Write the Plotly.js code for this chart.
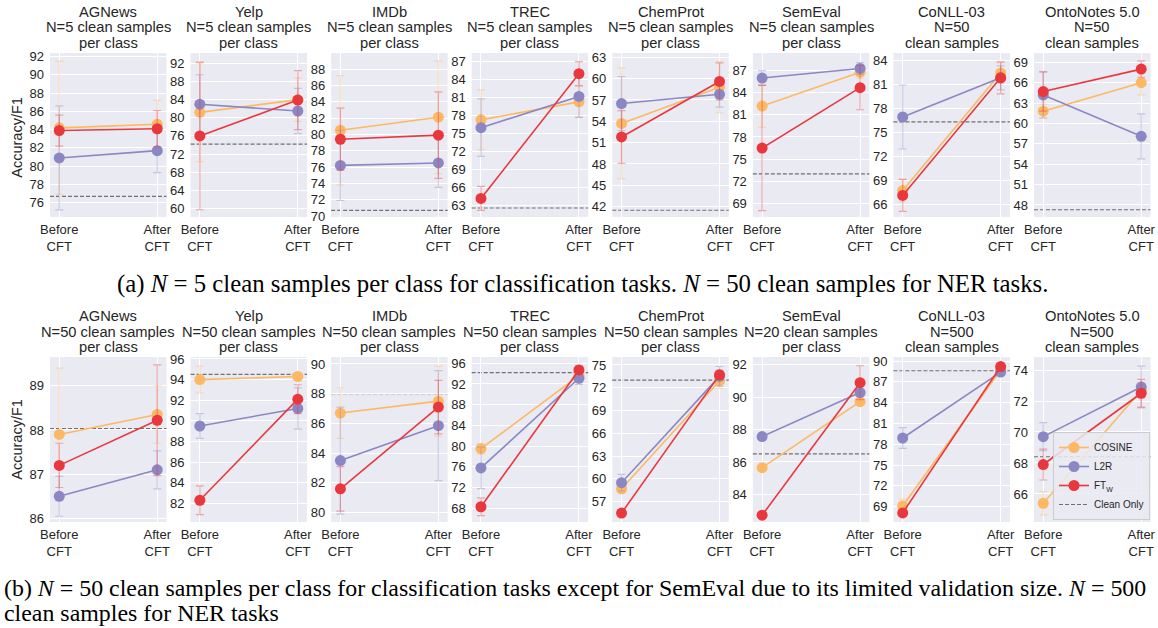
<!DOCTYPE html>
<html>
<head>
<meta charset="utf-8">
<script src="https://cdn.plot.ly/plotly-3.0.1.min.js"></script>
<style>
html,body{margin:0;padding:0;overflow:hidden;background:#fff;}
#chart{width:1158px;height:628px;}
</style>
</head>
<body>
<div id="chart"></div>
<script>
// ---------------- DATA ----------------
const datasets = ["AGNews","Yelp","IMDb","TREC","ChemProt","SemEval","CoNLL-03","OntoNotes 5.0"];
const subtitlesA = [["N=5 clean samples","per class"],["N=5 clean samples","per class"],["N=5 clean samples","per class"],["N=5 clean samples","per class"],["N=5 clean samples","per class"],["N=5 clean samples","per class"],["N=50","clean samples"],["N=50","clean samples"]];
const subtitlesB = [["N=50 clean samples","per class"],["N=50 clean samples","per class"],["N=50 clean samples","per class"],["N=50 clean samples","per class"],["N=50 clean samples","per class"],["N=20 clean samples","per class"],["N=500","clean samples"],["N=500","clean samples"]];
const stages = ["Before<br>CFT","After<br>CFT"];
const methods = ["COSINE","L2R","FT<sub>W</sub>"];
const cleanLabel = "Clean Only";
const yLabel = "Accuracy/F1";

// (a) N=5 per class / N=50 for NER
const cosineA    = [[84.2,84.6],[81.2,84.0],[80.5,82.1],[77.3,80.3],[53.7,58.8],[82.2,86.8],[67.7,82.4],[61.8,66.0]];
const cosineErrA = [[7.3,2.6],[10.9,4.8],[6.7,6.9],[5.0,2.6],[7.8,3.6],[2.9,0.8],[1.4,1.3],[1.0,1.8]];
const l2rA       = [[80.9,81.7],[83.0,81.5],[76.2,76.5],[76.0,81.2],[56.5,57.8],[86.0,87.3],[76.9,81.8],[64.2,58.1]];
const l2rErrA    = [[5.7,2.4],[6.5,5.0],[4.3,3.0],[4.8,3.5],[3.8,1.8],[1.0,0.8],[4.0,1.5],[3.4,3.3]];
const ftA        = [[83.9,84.1],[76.0,83.9],[79.4,79.9],[64.2,85.0],[51.8,59.6],[76.5,84.7],[67.1,81.8],[64.7,68.0]];
const ftErrA     = [[1.7,2.0],[16.3,6.5],[3.8,5.3],[2.0,2.0],[3.7,2.6],[8.5,3.0],[2.0,2.0],[2.9,1.2]];
const cleanA     = [76.7,74.2,70.7,62.6,41.5,73.0,76.3,47.3];

// (b) N=50 per class (SemEval N=20) / N=500 for NER
const cosineB    = [[87.9,88.35],[94.0,94.3],[86.7,87.5],[79.5,93.6],[58.7,72.9],[85.65,89.73],[69.1,88.7],[65.4,72.7]];
const cosineErrB = [[1.5,0.65],[1.3,0.3],[1.7,2.35],[1.0,1.0],[0.5,1.0],[0.1,0.2],[1.0,0.5],[0.75,0.5]];
const l2rB       = [[86.5,87.1],[89.5,91.2],[83.5,85.85],[75.8,93.1],[59.5,73.5],[87.57,90.29],[78.9,88.4],[69.7,72.9]];
const l2rErrB    = [[0.45,0.43],[1.2,2.0],[3.6,3.7],[4.0,1.2],[1.1,1.3],[0.1,0.2],[1.5,0.5],[0.9,1.35]];
const ftB        = [[87.2,88.22],[82.3,92.1],[81.6,87.1],[68.3,94.7],[55.5,73.7],[82.71,90.9],[68.1,89.2],[67.9,72.5]];
const ftErrB     = [[0.5,1.25],[1.4,1.4],[1.5,1.8],[1.7,0.8],[0.3,0.6],[0.1,1.05],[0.5,0.5],[1.0,0.9]];
const cleanB     = [88.03,94.5,88.0,94.2,73.0,86.5,88.6,68.4];

const captionA = "(a) <i>N</i> = 5 clean samples per class for classification tasks. <i>N</i> = 50 clean samples for NER tasks.";
const captionB1 = "(b) <i>N</i> = 50 clean samples per class for classification tasks except for SemEval due to its limited validation size. <i>N</i> = 500";
const captionB2 = "clean samples for NER tasks";

// ---------------- LAYOUT / STYLE ----------------
const W = 1158, H = 628;
const px = v => v / W, py = v => 1 - v / H;
const colors = ["#fdb863", "#8a87c4", "#e8383d"];
const errColors = ["rgba(253,184,99,0.4)", "rgba(138,135,196,0.4)", "rgba(232,56,61,0.4)"];
const txt = "#262626";
const FONT = "Liberation Sans, Arial, sans-serif";

const yRanges = [
  [[74.43,92.4],[58.1,94.3],[69.88,89.96],[61.1,88.45],[40.55,63.6],[67.14,89.4],[64.4,84.9],[46.23,70.37]],
  [[85.92,89.65],[80.19,96.19],[79.37,90.47],[65.36,97.2],[54.32,76.05],[82.29,92.49],[66.79,90.58],[64.19,74.84]]
];
const yDticks = [[2,4,2,3,3,3,3,3],[1,2,2,4,3,2,3,2]];
const rowTop = [53, 357], rowBot = [217, 522];
const titleY = [[11.7, 27.5, 43.3], [316, 331.5, 346.8]];
const panelX0 = i => 50 + 140.57 * i;
const panelW = 116.5;

const rows = [
  {vals:[cosineA,l2rA,ftA], errs:[cosineErrA,l2rErrA,ftErrA], clean:cleanA, subs:subtitlesA},
  {vals:[cosineB,l2rB,ftB], errs:[cosineErrB,l2rErrB,ftErrB], clean:cleanB, subs:subtitlesB}
];

const traces = [];
const layout = {
  width: W, height: H,
  margin: {l:0, r:0, t:0, b:0},
  paper_bgcolor: "#ffffff",
  plot_bgcolor: "#eaeaf2",
  font: {family: FONT, color: txt, size: 13},
  showlegend: true,
  legend: {
    x: px(1150), y: py(520), xanchor: "right", yanchor: "bottom",
    bgcolor: "rgba(234,234,242,0.85)", bordercolor: "#cccccc", borderwidth: 1,
    font: {family: FONT, size: 10, color: txt},
    tracegroupgap: 0, itemwidth: 30
  },
  shapes: [], annotations: []
};

rows.forEach((row, r) => {
  for (let i = 0; i < 8; i++) {
    const k = r * 8 + i + 1;
    const xs = k === 1 ? "" : String(k);
    const x0 = panelX0(i), x1 = x0 + panelW;
    layout["xaxis" + xs] = {
      domain: [px(x0), px(x1)], anchor: "y" + xs, type: "category",
      range: [-0.0945, 1.0945], showgrid: true, gridcolor: "#ffffff", gridwidth: 1,
      zeroline: false, showline: false, ticks: "", ticklabelstandoff: 3,
      tickfont: {family: FONT, size: 13, color: txt}, fixedrange: true
    };
    layout["yaxis" + xs] = {
      domain: [py(rowBot[r]), py(rowTop[r])], anchor: "x" + xs,
      range: yRanges[r][i], tickmode: "linear", tick0: 0, dtick: yDticks[r][i],
      showgrid: true, gridcolor: "#ffffff", gridwidth: 1, zeroline: false, showline: false,
      ticks: "", ticklabelstandoff: 5, tickfont: {family: FONT, size: 13, color: txt}, fixedrange: true
    };
    // method traces
    for (let m = 0; m < 3; m++) {
      traces.push({
        type: "scatter", mode: "lines+markers",
        x: stages, y: row.vals[m][i],
        xaxis: "x" + xs, yaxis: "y" + xs,
        name: methods[m], legendgroup: methods[m], showlegend: k === 1,
        line: {color: colors[m], width: 1.6},
        marker: {color: colors[m], size: 11},
        error_y: {type: "data", array: row.errs[m][i], visible: true, color: errColors[m], thickness: 1.2, width: 4},
        hoverinfo: "skip"
      });
    }
    // clean-only reference line
    layout.shapes.push({
      type: "line", xref: "x" + xs + " domain", x0: 0, x1: 1,
      yref: "y" + xs, y0: row.clean[i], y1: row.clean[i],
      line: {color: "#707070", width: 1.2, dash: "4px,2px"}, layer: "below"
    });
    // titles
    const cx = px(x0 + panelW / 2);
    const lines = [datasets[i], row.subs[i][0], row.subs[i][1]];
    lines.forEach((t, li) => {
      layout.annotations.push({
        text: t, xref: "paper", yref: "paper", x: cx, y: py(titleY[r][li]),
        xanchor: "center", yanchor: "middle", showarrow: false,
        font: {family: FONT, size: 14.7, color: txt}
      });
    });
  }
});

// legend entry for the clean-only line
traces.push({
  type: "scatter", mode: "lines", x: [null], y: [null], name: cleanLabel,
  xaxis: "x16", yaxis: "y16",
  line: {color: "#707070", width: 1.2, dash: "4px,2px"}, showlegend: true, hoverinfo: "skip"
});

// y-axis labels
[137, 439].forEach(yc => {
  layout.annotations.push({
    text: yLabel, xref: "paper", yref: "paper", x: px(16.7), y: py(yc),
    xanchor: "center", yanchor: "middle", textangle: -90, showarrow: false,
    font: {family: FONT, size: 14.5, color: txt}
  });
});

// captions
const SERIF = "Liberation Serif, Times New Roman, serif";
layout.annotations.push({
  text: captionA, xref: "paper", yref: "paper", x: px(582.5), y: py(284),
  xanchor: "center", yanchor: "middle", showarrow: false,
  font: {family: SERIF, size: 24.8, color: "#000"}
});
layout.annotations.push({
  text: captionB1, xref: "paper", yref: "paper", x: px(2), y: py(588),
  xanchor: "left", yanchor: "middle", showarrow: false,
  font: {family: SERIF, size: 23.9, color: "#000"}
});
layout.annotations.push({
  text: captionB2, xref: "paper", yref: "paper", x: px(2), y: py(613),
  xanchor: "left", yanchor: "middle", showarrow: false,
  font: {family: SERIF, size: 23.9, color: "#000"}
});

Plotly.newPlot("chart", traces, layout, {staticPlot: true, displayModeBar: false});
</script>
</body>
</html>
